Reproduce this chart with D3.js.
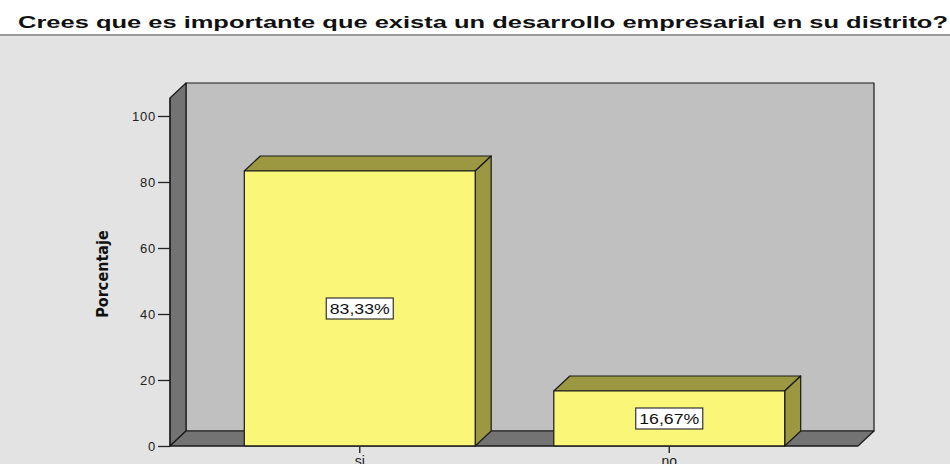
<!DOCTYPE html>
<meta charset="utf-8">
<style>
  body { margin: 0; background: #e3e3e3; }
  svg { display: block; }
</style>
<svg width="950" height="464"></svg>
<script src="https://cdn.jsdelivr.net/npm/d3@7"></script>
<script>

var categories = ["si", "no"],
    percentages = [83.33, 16.67],
    barLabels = ["83,33%", "16,67%"],
    yTicks = [0, 20, 40, 60, 80, 100];

var titleText = "Crees que es importante que exista un desarrollo empresarial en su distrito?";

var svg = d3.select("svg"),
    width = +svg.attr("width"),
    height = +svg.attr("height");

var depthX = 16, depthY = 15;   // 3d offset

var y = d3.scaleLinear().domain([0, 100]).range([446, 116]);
var yTop = 105.45;
var x = d3.scaleBand().domain(categories).range([205, 824])
    .paddingInner(0.254).paddingOuter(0.127);
var left = 170, right = 858;

// title band
svg.append("rect").attr("width", width).attr("height", 35).attr("fill", "#fff");
svg.append("rect").attr("y", 34).attr("width", width).attr("height", 2).attr("fill", "#9a9a9a");
svg.append("text")
    .attr("x", 18).attr("y", 28)
    .attr("textLength", 930).attr("lengthAdjust", "spacingAndGlyphs")
    .style("font", "bold 17px 'Liberation Sans', Arial, sans-serif")
    .attr("fill", "#111")
    .text(titleText);

var g = svg.append("g")
    .attr("stroke", "#1a1a1a").attr("stroke-width", 1.2).attr("stroke-linejoin", "round");

function poly(pts) { return "M" + pts.map(function(p) { return p.join(","); }).join("L") + "Z"; }

// back wall
g.append("path").attr("fill", "#c0c0c0")
    .attr("d", poly([[left + depthX, y(yTop) - depthY], [right + depthX, y(yTop) - depthY],
                     [right + depthX, y(0) - depthY], [left + depthX, y(0) - depthY]]));
// side wall
g.append("path").attr("fill", "#737373")
    .attr("d", poly([[left, y(yTop)], [left + depthX, y(yTop) - depthY],
                     [left + depthX, y(0) - depthY], [left, y(0)]]));
// floor
g.append("path").attr("fill", "#737373")
    .attr("d", poly([[left, y(0)], [left + depthX, y(0) - depthY],
                     [right + depthX, y(0) - depthY], [right, y(0)]]));

// bars
var bars = g.selectAll(".bar").data(categories).enter().append("g").attr("class", "bar");
bars.append("path").attr("fill", "#9c9741")
    .attr("d", function(c, i) {
      var x0 = x(c), x1 = x(c) + x.bandwidth(), yv = y(percentages[i]);
      return poly([[x0, yv], [x0 + depthX, yv - depthY], [x1 + depthX, yv - depthY], [x1, yv]]);
    });
bars.append("path").attr("fill", "#9c9741")
    .attr("d", function(c, i) {
      var x1 = x(c) + x.bandwidth(), yv = y(percentages[i]);
      return poly([[x1, yv], [x1 + depthX, yv - depthY], [x1 + depthX, y(0) - depthY], [x1, y(0)]]);
    });
bars.append("rect").attr("fill", "#faf677")
    .attr("x", function(c) { return x(c); })
    .attr("y", function(c, i) { return y(percentages[i]); })
    .attr("width", x.bandwidth())
    .attr("height", function(c, i) { return y(0) - y(percentages[i]); });

// front axis edge
g.append("line").attr("x1", left).attr("x2", left).attr("y1", y(yTop)).attr("y2", y(0));
g.append("line").attr("x1", left).attr("x2", right).attr("y1", y(0)).attr("y2", y(0));

// y axis
var yAxis = svg.append("g").attr("transform", "translate(" + left + ",0)")
    .call(d3.axisLeft(y).tickValues(yTicks).tickSize(12).tickPadding(2));
yAxis.select(".domain").remove();
yAxis.selectAll("line").attr("stroke", "#222").attr("stroke-width", 1.3);
yAxis.selectAll("text")
    .style("font", "13px 'Liberation Sans', Arial, sans-serif")
    .style("letter-spacing", "0.8px")
    .attr("fill", "#222");

// x axis
var xAxis = svg.append("g").attr("transform", "translate(0," + y(0) + ")")
    .call(d3.axisBottom(x).tickSize(7).tickPadding(3));
xAxis.select(".domain").remove();
xAxis.selectAll("line").attr("stroke", "#333").attr("stroke-width", 1.5);
xAxis.selectAll("text")
    .style("font", "14px 'Liberation Sans', Arial, sans-serif")
    .attr("fill", "#222");

// y label
svg.append("text")
    .attr("transform", "translate(108,274) rotate(-90)")
    .attr("text-anchor", "middle")
    .style("font", "bold 16px 'Liberation Sans Narrow', 'DejaVu Sans Condensed', sans-serif")
    .attr("fill", "#111")
    .text("Porcentaje");

// value labels
var labels = svg.selectAll(".vlabel").data(categories).enter().append("g")
    .attr("class", "vlabel")
    .attr("transform", function(c, i) {
      return "translate(" + (x(c) + x.bandwidth() / 2) + "," + (y(percentages[i]) + y(0)) / 2 + ")";
    });
labels.append("rect")
    .attr("x", -33.5).attr("y", -10.5).attr("width", 67).attr("height", 21)
    .attr("fill", "#fff").attr("stroke", "#333").attr("stroke-width", 1.2);
labels.append("text")
    .attr("text-anchor", "middle").attr("dy", "0.36em")
    .attr("textLength", 60).attr("lengthAdjust", "spacingAndGlyphs")
    .style("font", "14px 'Liberation Sans', Arial, sans-serif")
    .attr("fill", "#111")
    .text(function(c, i) { return barLabels[i]; });

</script>
